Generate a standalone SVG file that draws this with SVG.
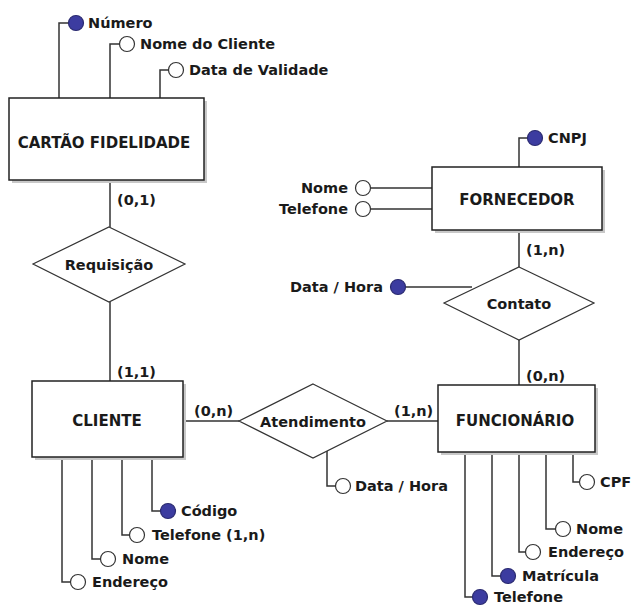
<svg xmlns="http://www.w3.org/2000/svg" width="634" height="608" viewBox="0 0 634 608">
<style>
text{font-family:"DejaVu Sans","Verdana",sans-serif;font-weight:bold;font-size:14.5px;fill:#1a1a1a}
.en{font-size:15px}
.ent{fill:#fff;stroke:#222;stroke-width:1.5}
.sh{fill:#c8c8c8}
.rel{fill:#fff;stroke:#333;stroke-width:1.2}
.ln{fill:none;stroke:#333;stroke-width:1.5}
.att{fill:#fff;stroke:#333;stroke-width:1.2}
.key{fill:#3c3ca0;stroke:#2a2a70;stroke-width:1.2}
.c{text-anchor:middle}
.e{text-anchor:end}
</style>
<rect width="634" height="608" fill="#fff"/>
<g id="connectors">
<path class="ln" d="M110,180V227 M110,302V381 M183,421H239 M387,421H438 M519,230V267 M519,340V385"/>
<path class="ln" d="M59,98V23H68 M110,98V44H119 M160,98V70H168"/>
<path class="ln" d="M432,188H371 M432,209H371 M519,167V138H527 M406,287H472"/>
<path class="ln" d="M62,457V582H70 M92,457V559H100 M122,457V535H129 M152,457V511H160"/>
<path class="ln" d="M327,451V486H335"/>
<path class="ln" d="M465,452V597H472 M492,452V576H500 M519,452V552H525 M546,452V529H555 M573,452V482H579"/>
</g>
<g id="cartao">
<rect class="sh" x="12" y="101" width="195" height="82"/>
<rect class="ent" x="9" y="98" width="195" height="82"/>
<text class="c en" x="104" y="148">CARTÃO FIDELIDADE</text>
</g>
<g id="cartao-attrs">
<circle class="key" cx="76" cy="23" r="7.5"/><text x="88" y="28">Número</text>
<circle class="att" cx="127" cy="44" r="7.5"/><text x="140" y="49">Nome do Cliente</text>
<circle class="att" cx="176" cy="70" r="7.5"/><text x="189" y="75">Data de Validade</text>
</g>
<g id="requisicao">
<polygon class="rel" points="109,227 185,264 109,302 33,264"/>
<text class="c" x="109" y="270">Requisição</text>
</g>
<g id="cliente">
<rect class="sh" x="35" y="384" width="151" height="76"/>
<rect class="ent" x="32" y="381" width="151" height="76"/>
<text class="c en" x="107" y="426">CLIENTE</text>
</g>
<g id="cliente-attrs">
<circle class="key" cx="168" cy="511" r="7.5"/><text x="181" y="516">Código</text>
<circle class="att" cx="137" cy="535" r="7.5"/><text x="152" y="540">Telefone (1,n)</text>
<circle class="att" cx="108" cy="559" r="7.5"/><text x="122" y="564">Nome</text>
<circle class="att" cx="78" cy="582" r="7.5"/><text x="92" y="587">Endereço</text>
</g>
<g id="atendimento">
<polygon class="rel" points="313,384 387,421 313,458 239,421"/>
<text class="c" x="313" y="427">Atendimento</text>
<circle class="att" cx="343" cy="486" r="7.5"/><text x="355" y="491">Data / Hora</text>
</g>
<g id="funcionario">
<rect class="sh" x="441" y="388" width="157" height="67"/>
<rect class="ent" x="438" y="385" width="157" height="67"/>
<text class="c en" x="515" y="426">FUNCIONÁRIO</text>
</g>
<g id="funcionario-attrs">
<circle class="att" cx="587" cy="482" r="7.5"/><text x="600" y="487">CPF</text>
<circle class="att" cx="563" cy="529" r="7.5"/><text x="576" y="534">Nome</text>
<circle class="att" cx="533" cy="552" r="7.5"/><text x="548" y="557">Endereço</text>
<circle class="key" cx="508" cy="576" r="7.5"/><text x="522" y="581">Matrícula</text>
<circle class="key" cx="480" cy="597" r="7.5"/><text x="494" y="602">Telefone</text>
</g>
<g id="fornecedor">
<rect class="sh" x="435" y="170" width="170" height="63"/>
<rect class="ent" x="432" y="167" width="170" height="63"/>
<text class="c en" x="517" y="205">FORNECEDOR</text>
</g>
<g id="fornecedor-attrs">
<circle class="key" cx="535" cy="138" r="7.5"/><text x="548" y="143">CNPJ</text>
<circle class="att" cx="363" cy="188" r="7.5"/><text class="e" x="348" y="193">Nome</text>
<circle class="att" cx="363" cy="209" r="7.5"/><text class="e" x="348" y="214">Telefone</text>
</g>
<g id="contato">
<polygon class="rel" points="519,267 594,303 519,340 444,303"/>
<text class="c" x="519" y="309">Contato</text>
<circle class="key" cx="398" cy="287" r="7.5"/><text class="e" x="383" y="292">Data / Hora</text>
</g>
<g id="cardinalities">
<text x="117" y="205">(0,1)</text>
<text x="117" y="377">(1,1)</text>
<text x="194" y="416">(0,n)</text>
<text x="394" y="416">(1,n)</text>
<text x="526" y="255">(1,n)</text>
<text x="526" y="381">(0,n)</text>
</g>
</svg>
